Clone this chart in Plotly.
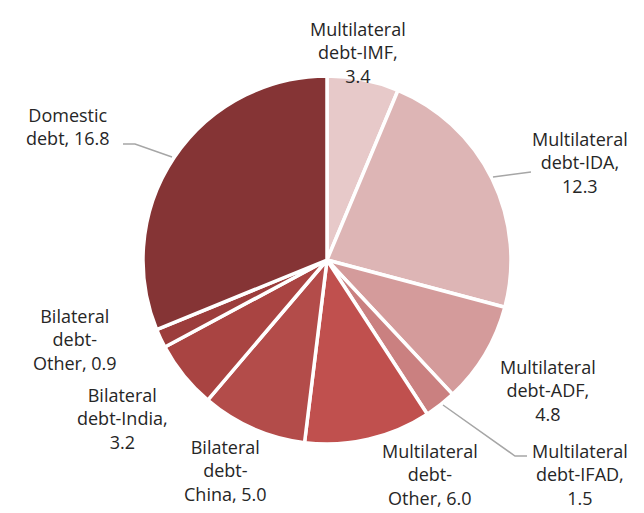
import plotly.graph_objects as go

W, H = 644, 513

categories = ["Multilateral debt-IMF", "Multilateral debt-IDA", "Multilateral debt-ADF",
              "Multilateral debt-IFAD", "Multilateral debt-Other", "Bilateral debt-China",
              "Bilateral debt-India", "Bilateral debt-Other", "Domestic debt"]
values = [3.4, 12.3, 4.8, 1.5, 6.0, 5.0, 3.2, 0.9, 16.8]
colors = ["#E7C9C9", "#DDB5B5", "#D49B9B", "#CA8080", "#C0504E",
          "#B34C4A", "#A94442", "#9C3D3C", "#853435"]
label_texts = ["Multilateral<br>debt-IMF,<br>3.4", "Multilateral<br>debt-IDA,<br>12.3",
               "Multilateral<br>debt-ADF,<br>4.8", "Multilateral<br>debt-IFAD,<br>1.5",
               "Multilateral<br>debt-<br>Other, 6.0", "Bilateral<br>debt-<br>China, 5.0",
               "Bilateral<br>debt-India,<br>3.2", "Bilateral<br>debt-<br>Other, 0.9",
               "Domestic<br>debt, 16.8"]

cx, cy, r = 327, 260, 184

def px(x):
    return x / W

def py(y):
    return 1 - y / H

fig = go.Figure(go.Pie(
    labels=categories, values=values, sort=False, direction="clockwise", rotation=0,
    marker=dict(colors=colors, line=dict(color="white", width=3.5)),
    textinfo="none", hoverinfo="label+value", showlegend=False,
    domain=dict(x=[px(cx - r), px(cx + r)], y=[py(cy + r), py(cy - r)]),
))

# label anchor positions (pixel centers of text blocks)
label_pos = [(358, 52), (580, 163), (548, 390), (580, 474), (430, 474),
             (225, 470), (122, 418), (75, 339), (68, 127)]
for t, (x, y) in zip(label_texts, label_pos):
    fig.add_annotation(x=px(x), y=py(y), xref="paper", yref="paper", text=t,
                       showarrow=False, xanchor="center", yanchor="middle",
                       font=dict(family="'Open Sans', Lato, sans-serif", size=18, color="#262626"))

leaders = [
    [(123, 144), (135, 144), (172, 157)],
    [(493, 177), (531, 172)],
    [(443, 405), (515, 456), (527, 456)],
]
for pts in leaders:
    path = "M " + " L ".join(f"{px(x)},{py(y)}" for x, y in pts)
    fig.add_shape(type="path", path=path, xref="paper", yref="paper",
                  line=dict(color="#A6A6A6", width=1.5))

fig.update_layout(width=W, height=H, margin=dict(l=0, r=0, t=0, b=0),
                  paper_bgcolor="white", plot_bgcolor="white")
fig.write_html("out.html", config={"displayModeBar": False},
               post_script="document.body.style.margin='0';document.body.style.padding='0';")
